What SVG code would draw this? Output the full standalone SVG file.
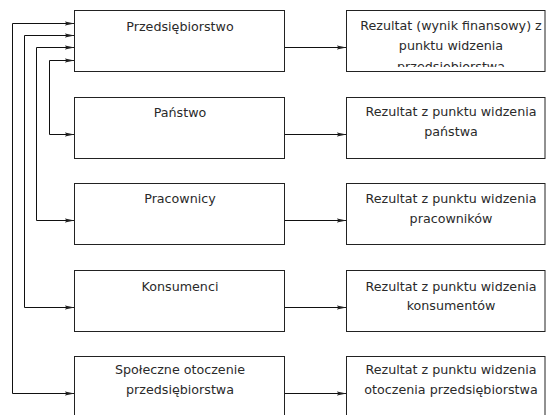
<svg xmlns="http://www.w3.org/2000/svg" width="547" height="415" viewBox="0 0 547 415">
<style>
.box{fill:#fff;stroke:#222;stroke-width:1}
.t{font-family:"DejaVu Sans",sans-serif;font-size:12.7px;fill:#2a2a2a;text-anchor:middle}
.c{fill:none;stroke:#111;stroke-width:1}
</style>
<defs>
<marker id="ah" markerUnits="userSpaceOnUse" markerWidth="11" markerHeight="6" refX="10" refY="3" orient="auto-start-reverse">
<path d="M0,1 L10,3 L0,5 L2.5,3 z" fill="#222"/>
</marker>
<clipPath id="clip1"><rect x="347" y="10" width="198" height="57"/></clipPath>
</defs>
<rect width="547" height="415" fill="#fff"/>
<g id="connectors">
<path class="c" d="M284.5,47.5 H346.5" marker-end="url(#ah)"/>
<path class="c" d="M284.5,134.5 H346.5" marker-end="url(#ah)"/>
<path class="c" d="M284.5,220.5 H346.5" marker-end="url(#ah)"/>
<path class="c" d="M284.5,307.5 H346.5" marker-end="url(#ah)"/>
<path class="c" d="M284.5,393.5 H346.5" marker-end="url(#ah)"/>
<path class="c" d="M74.5,23.5 H12.5 V393.5 H74.5" marker-start="url(#ah)" marker-end="url(#ah)"/>
<path class="c" d="M74.5,35.5 H24.5 V307.5 H74.5" marker-start="url(#ah)" marker-end="url(#ah)"/>
<path class="c" d="M74.5,47.5 H36.5 V220.5 H74.5" marker-start="url(#ah)" marker-end="url(#ah)"/>
<path class="c" d="M74.5,60.5 H49.5 V134.5 H74.5" marker-start="url(#ah)" marker-end="url(#ah)"/>
</g>
<g id="przedsiebiorstwo">
<rect class="box" x="74.5" y="10.5" width="210" height="61"/>
<text class="t" x="180" y="30.5">Przedsiębiorstwo</text>
</g>
<g id="panstwo">
<rect class="box" x="74.5" y="97.5" width="210" height="61"/>
<text class="t" x="180" y="117">Państwo</text>
</g>
<g id="pracownicy">
<rect class="box" x="74.5" y="183.5" width="210" height="61"/>
<text class="t" x="180" y="203">Pracownicy</text>
</g>
<g id="konsumenci">
<rect class="box" x="74.5" y="270.5" width="210" height="61"/>
<text class="t" x="180" y="290.5">Konsumenci</text>
</g>
<g id="spoleczne">
<rect class="box" x="74.5" y="356.5" width="210" height="70"/>
<text class="t" x="180" y="374">Społeczne otoczenie</text>
<text class="t" x="180" y="394">przedsiębiorstwa</text>
</g>
<g id="rez1">
<rect class="box" x="346.5" y="10.5" width="198.5" height="61"/>
<g clip-path="url(#clip1)">
<text class="t" x="451" y="29.5">Rezultat (wynik finansowy) z</text>
<text class="t" x="451" y="49.5">punktu widzenia</text>
<text class="t" x="451" y="71">przedsiębiorstwa</text>
</g>
</g>
<g id="rez2">
<rect class="box" x="346.5" y="97.5" width="198.5" height="61"/>
<text class="t" x="451" y="115.5">Rezultat z punktu widzenia</text>
<text class="t" x="451" y="135.5">państwa</text>
</g>
<g id="rez3">
<rect class="box" x="346.5" y="183.5" width="198.5" height="61"/>
<text class="t" x="451" y="202.5">Rezultat z punktu widzenia</text>
<text class="t" x="451" y="222.5">pracowników</text>
</g>
<g id="rez4">
<rect class="box" x="346.5" y="270.5" width="198.5" height="61"/>
<text class="t" x="451" y="290.5">Rezultat z punktu widzenia</text>
<text class="t" x="451" y="310">konsumentów</text>
</g>
<g id="rez5">
<rect class="box" x="346.5" y="356.5" width="198.5" height="70"/>
<text class="t" x="451" y="374">Rezultat z punktu widzenia</text>
<text class="t" x="451" y="394">otoczenia przedsiębiorstwa</text>
</g>
</svg>
